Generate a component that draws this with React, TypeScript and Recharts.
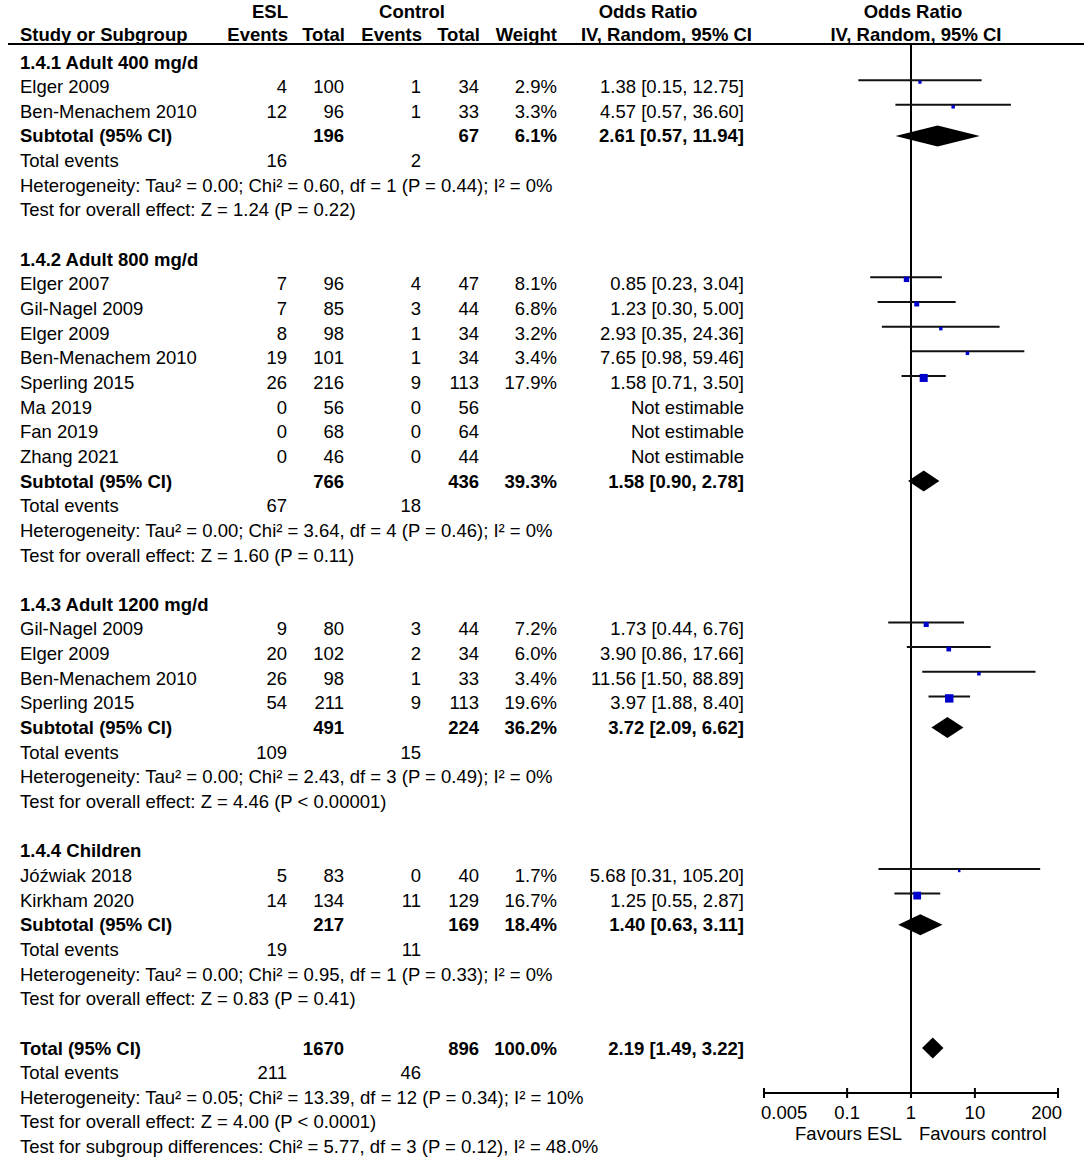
import React from 'react';
import { ComposedChart, XAxis, YAxis, Scatter, ReferenceLine, ReferenceArea } from 'recharts';

// [study, ESL events, ESL total, control events, control total, weight %, OR, CI low, CI high]
type Study = [string, number, number, number, number, number | null, number | null, number | null, number | null];

const adult400: Study[] = [
  ['Elger 2009', 4, 100, 1, 34, 2.9, 1.38, 0.15, 12.75],
  ['Ben-Menachem 2010', 12, 96, 1, 33, 3.3, 4.57, 0.57, 36.6],
];
const adult800: Study[] = [
  ['Elger 2007', 7, 96, 4, 47, 8.1, 0.85, 0.23, 3.04],
  ['Gil-Nagel 2009', 7, 85, 3, 44, 6.8, 1.23, 0.3, 5.0],
  ['Elger 2009', 8, 98, 1, 34, 3.2, 2.93, 0.35, 24.36],
  ['Ben-Menachem 2010', 19, 101, 1, 34, 3.4, 7.65, 0.98, 59.46],
  ['Sperling 2015', 26, 216, 9, 113, 17.9, 1.58, 0.71, 3.5],
  ['Ma 2019', 0, 56, 0, 56, null, null, null, null],
  ['Fan 2019', 0, 68, 0, 64, null, null, null, null],
  ['Zhang 2021', 0, 46, 0, 44, null, null, null, null],
];
const adult1200: Study[] = [
  ['Gil-Nagel 2009', 9, 80, 3, 44, 7.2, 1.73, 0.44, 6.76],
  ['Elger 2009', 20, 102, 2, 34, 6.0, 3.9, 0.86, 17.66],
  ['Ben-Menachem 2010', 26, 98, 1, 33, 3.4, 11.56, 1.5, 88.89],
  ['Sperling 2015', 54, 211, 9, 113, 19.6, 3.97, 1.88, 8.4],
];
const children: Study[] = [
  ['Jóźwiak 2018', 5, 83, 0, 40, 1.7, 5.68, 0.31, 105.2],
  ['Kirkham 2020', 14, 134, 11, 129, 16.7, 1.25, 0.55, 2.87],
];

const subgroups = [adult400, adult800, adult1200, children];
const subgroupTitles = ['1.4.1 Adult 400 mg/d', '1.4.2 Adult 800 mg/d', '1.4.3 Adult 1200 mg/d', '1.4.4 Children'];
const subtotalTotals = [[196, 67], [766, 436], [491, 224], [217, 169]];
const subtotalWeights = [6.1, 39.3, 36.2, 18.4];
const subtotalOR = [[2.61, 0.57, 11.94], [1.58, 0.9, 2.78], [3.72, 2.09, 6.62], [1.4, 0.63, 3.11]];
const subtotalEvents = [[16, 2], [67, 18], [109, 15], [19, 11]];
const subtotalHet = [
  'Heterogeneity: Tau² = 0.00; Chi² = 0.60, df = 1 (P = 0.44); I² = 0%',
  'Heterogeneity: Tau² = 0.00; Chi² = 3.64, df = 4 (P = 0.46); I² = 0%',
  'Heterogeneity: Tau² = 0.00; Chi² = 2.43, df = 3 (P = 0.49); I² = 0%',
  'Heterogeneity: Tau² = 0.00; Chi² = 0.95, df = 1 (P = 0.33); I² = 0%',
];
const subtotalEffect = [
  'Test for overall effect: Z = 1.24 (P = 0.22)',
  'Test for overall effect: Z = 1.60 (P = 0.11)',
  'Test for overall effect: Z = 4.46 (P < 0.00001)',
  'Test for overall effect: Z = 0.83 (P = 0.41)',
];

const overallTotals = [1670, 896];
const overallWeight = 100;
const overallOR = [2.19, 1.49, 3.22];
const overallEvents = [211, 46];
const overallHet = 'Heterogeneity: Tau² = 0.05; Chi² = 13.39, df = 12 (P = 0.34); I² = 10%';
const overallEffect = 'Test for overall effect: Z = 4.00 (P < 0.0001)';
const subgroupDiff = 'Test for subgroup differences: Chi² = 5.77, df = 3 (P = 0.12), I² = 48.0%';

const axisTicks = [0.005, 0.1, 1, 10, 200];

// layout
const FONT = '"Liberation Sans", Arial, Helvetica, sans-serif';
const FS = 18.5;
const W = 1084;
const H = 1160;
const PLOT_LEFT = 764;
const PLOT_RIGHT = 1058;
const PLOT_TOP = 44;
const PLOT_BOTTOM = 1093;
const ROW0 = 62;
const PITCH = 24.65;
const rowY = (i: number) => ROW0 + PITCH * i;
const COL = { label: 20, eslEvents: 287, eslTotal: 344, ctlEvents: 421, ctlTotal: 479, weight: 557, or: 744 };

type TextLine = { row: number; label: string; bold?: boolean; cells?: [number, string][] };
type Mark = { row: number; or: number; lo: number; hi: number; weight: number };
type Diamond = { row: number; or: number; lo: number; hi: number };

const fmtOR = (or: number, lo: number, hi: number) => `${or.toFixed(2)} [${lo.toFixed(2)}, ${hi.toFixed(2)}]`;

const lines: TextLine[] = [];
const studyMarks: Mark[] = [];
const diamonds: Diamond[] = [];

let r = 0;
subgroups.forEach((studies, g) => {
  lines.push({ row: r++, label: subgroupTitles[g], bold: true });
  studies.forEach(([name, e1, n1, e2, n2, w, or, lo, hi]) => {
    const cells: [number, string][] = [
      [COL.eslEvents, String(e1)],
      [COL.eslTotal, String(n1)],
      [COL.ctlEvents, String(e2)],
      [COL.ctlTotal, String(n2)],
    ];
    if (w !== null) cells.push([COL.weight, w.toFixed(1) + '%']);
    if (or !== null && lo !== null && hi !== null && w !== null) {
      cells.push([COL.or, fmtOR(or, lo, hi)]);
      studyMarks.push({ row: r, or, lo, hi, weight: w });
    } else {
      cells.push([COL.or, 'Not estimable']);
    }
    lines.push({ row: r++, label: name, cells });
  });
  const [sor, slo, shi] = subtotalOR[g];
  lines.push({
    row: r,
    label: 'Subtotal (95% CI)',
    bold: true,
    cells: [
      [COL.eslTotal, String(subtotalTotals[g][0])],
      [COL.ctlTotal, String(subtotalTotals[g][1])],
      [COL.weight, subtotalWeights[g].toFixed(1) + '%'],
      [COL.or, fmtOR(sor, slo, shi)],
    ],
  });
  diamonds.push({ row: r++, or: sor, lo: slo, hi: shi });
  lines.push({
    row: r++,
    label: 'Total events',
    cells: [
      [COL.eslEvents, String(subtotalEvents[g][0])],
      [COL.ctlEvents, String(subtotalEvents[g][1])],
    ],
  });
  lines.push({ row: r++, label: subtotalHet[g] });
  lines.push({ row: r++, label: subtotalEffect[g] });
  r++;
});
lines.push({
  row: r,
  label: 'Total (95% CI)',
  bold: true,
  cells: [
    [COL.eslTotal, String(overallTotals[0])],
    [COL.ctlTotal, String(overallTotals[1])],
    [COL.weight, overallWeight.toFixed(1) + '%'],
    [COL.or, fmtOR(overallOR[0], overallOR[1], overallOR[2])],
  ],
});
diamonds.push({ row: r++, or: overallOR[0], lo: overallOR[1], hi: overallOR[2] });
lines.push({
  row: r++,
  label: 'Total events',
  cells: [
    [COL.eslEvents, String(overallEvents[0])],
    [COL.ctlEvents, String(overallEvents[1])],
  ],
});
lines.push({ row: r++, label: overallHet });
lines.push({ row: r++, label: overallEffect });
lines.push({ row: r++, label: subgroupDiff });

const yMin = (PLOT_TOP - ROW0) / PITCH;
const yMax = (PLOT_BOTTOM - ROW0) / PITCH;

const CiLine = (props: any) => {
  const { x1, y1, x2 } = props;
  return <line x1={x1} x2={x2} y1={y1 - 6.5} y2={y1 - 6.5} stroke="#111" strokeWidth={2} />;
};

const DiamondShape = (props: any) => {
  const { x, y, width, height } = props;
  const cy = y + height / 2;
  const cx = x + width / 2;
  const h = 10.5;
  return <polygon points={`${x},${cy} ${cx},${cy - h} ${x + width},${cy} ${cx},${cy + h}`} fill="#000" />;
};

const WeightSquare = (props: any) => {
  const { cx, cy, payload } = props;
  const s = 1.9 * Math.sqrt(payload.weight);
  return <rect x={cx - s / 2} y={cy - 4.5 - s / 2} width={s} height={s} fill="#0000CC" />;
};

const AxisTick = (props: any) => {
  const { x, y, payload } = props;
  const v = payload.value;
  const first = v === axisTicks[0];
  const last = v === axisTicks[axisTicks.length - 1];
  const anchor = first ? 'start' : last ? 'end' : 'middle';
  const dx = first ? -3 : last ? 4 : 0;
  return (
    <g>
      <line x1={x} x2={x} y1={y - 5} y2={y + 5} stroke="#000" strokeWidth={2} />
      <text x={x + dx} y={y + 26} textAnchor={anchor} fontSize={FS} fontFamily={FONT} fill="#000">
        {String(v)}
      </text>
    </g>
  );
};

const T = ({ x, y, children, anchor = 'start', bold = false }: any) => (
  <text x={x} y={y} textAnchor={anchor} fontSize={FS} fontFamily={FONT} fontWeight={bold ? 'bold' : 'normal'} fill="#000">
    {children}
  </text>
);

const App: React.FC = () => {
  return (
    <div style={{ position: 'absolute', left: 0, top: 0, width: W, height: H, background: '#fff', fontFamily: FONT }}>
      <div style={{ position: 'absolute', left: 0, top: 0 }}>
        <ComposedChart
          width={W}
          height={H}
          margin={{ top: PLOT_TOP, right: W - PLOT_RIGHT, bottom: 0, left: PLOT_LEFT }}
        >
          <XAxis
            type="number"
            dataKey="or"
            scale="log"
            domain={[axisTicks[0], axisTicks[axisTicks.length - 1]]}
            allowDataOverflow
            ticks={axisTicks}
            interval={0}
            height={H - PLOT_BOTTOM}
            tickSize={0}
            tickMargin={0}
            tickLine={false}
            axisLine={{ stroke: '#000', strokeWidth: 2 }}
            tick={AxisTick}
          />
          <YAxis type="number" dataKey="row" domain={[yMin, yMax]} reversed hide allowDataOverflow />
          <ReferenceLine x={1} stroke="#000" strokeWidth={2} />
          {studyMarks.map((m, i) => (
            <ReferenceLine
              key={`ci-${i}`}
              segment={[{ x: m.lo, y: m.row }, { x: m.hi, y: m.row }]}
              shape={CiLine}
            />
          ))}
          {diamonds.map((d, i) => (
            <ReferenceArea
              key={`dm-${i}`}
              x1={d.lo}
              x2={d.hi}
              y1={d.row - 0.4}
              y2={d.row + 0.4}
              shape={DiamondShape}
            />
          ))}
          <Scatter data={studyMarks} shape={WeightSquare} isAnimationActive={false} />
        </ComposedChart>
      </div>
      <svg width={W} height={H} style={{ position: 'absolute', left: 0, top: 0, pointerEvents: 'none' }}>
        <T x={270} y={18} anchor="middle" bold>ESL</T>
        <T x={412} y={18} anchor="middle" bold>Control</T>
        <T x={648} y={18} anchor="middle" bold>Odds Ratio</T>
        <T x={913} y={18} anchor="middle" bold>Odds Ratio</T>
        <T x={COL.label} y={41} bold>Study or Subgroup</T>
        <T x={288} y={41} anchor="end" bold>Events</T>
        <T x={345} y={41} anchor="end" bold>Total</T>
        <T x={422} y={41} anchor="end" bold>Events</T>
        <T x={480} y={41} anchor="end" bold>Total</T>
        <T x={557} y={41} anchor="end" bold>Weight</T>
        <T x={752} y={41} anchor="end" bold>IV, Random, 95% CI</T>
        <T x={916} y={41} anchor="middle" bold>IV, Random, 95% CI</T>
        <line x1={8} x2={W} y1={PLOT_TOP} y2={PLOT_TOP} stroke="#000" strokeWidth={2} />
        {lines.map((ln, i) => {
          const y = rowY(ln.row) + 6.5;
          return (
            <g key={i}>
              <T x={COL.label} y={y} bold={ln.bold}>{ln.label}</T>
              {(ln.cells || []).map(([x, txt], j) => (
                <T key={j} x={x} y={y} anchor="end" bold={ln.bold}>{txt}</T>
              ))}
            </g>
          );
        })}
        <T x={902} y={1140} anchor="end">Favours ESL</T>
        <T x={919} y={1140}>Favours control</T>
      </svg>
    </div>
  );
};

export default App;
